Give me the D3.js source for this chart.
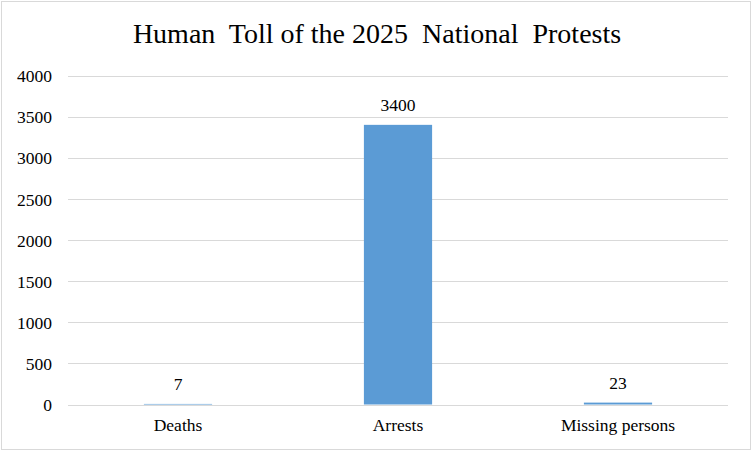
<!DOCTYPE html>
<html><head><meta charset="utf-8">
<script src="https://cdn.jsdelivr.net/npm/d3@7"></script>
<style>body{margin:0;background:#fff}svg{display:block}text{font-family:"Liberation Serif","Times New Roman",serif;fill:#000}</style>
</head><body><svg id="c" width="752" height="452"></svg>
<script>
const title = "Human  Toll of the 2025  National  Protests";
const categories = ["Deaths", "Arrests", "Missing persons"];
const values = [7, 3400, 23];
const yTicks = [0, 500, 1000, 1500, 2000, 2500, 3000, 3500, 4000];

const SERIF = '"Liberation Serif","Times New Roman",serif';
const svg = d3.select("#c");
const W = 752, H = 452;
const m = {left: 68, right: 24, top: 75.5, bottom: 47.5};
svg.append("rect").attr("x", 1.5).attr("y", 1.5).attr("width", W - 3).attr("height", H - 4)
  .attr("fill", "#fff").attr("stroke", "#d9d9d9");

const x = d3.scaleBand().domain(categories).range([m.left, W - m.right]).paddingInner(0.69).paddingOuter(0.345);
const y = d3.scaleLinear().domain([0, 4000]).range([H - m.bottom, m.top]);

svg.append("g").selectAll("line").data(yTicks).join("line")
  .attr("x1", m.left).attr("x2", W - m.right)
  .attr("y1", d => Math.round(y(d)) + 0.5).attr("y2", d => Math.round(y(d)) + 0.5)
  .attr("stroke", "#d9d9d9").attr("stroke-width", 1);

const yAxis = svg.append("g").attr("transform", `translate(${m.left},0)`)
  .call(d3.axisLeft(y).tickValues(yTicks).tickFormat(d3.format("d")).tickSize(0).tickPadding(16));
yAxis.attr("font-family", SERIF).attr("font-size", 17.5);
yAxis.select(".domain").remove();
yAxis.selectAll("text").attr("font-family", SERIF).attr("font-size", 17.5).attr("dy", "0.35em");

svg.append("g").selectAll("rect").data(values).join("rect")
  .attr("x", (d, i) => x(categories[i])).attr("width", x.bandwidth())
  .attr("y", d => y(d)).attr("height", d => y(0) - y(d))
  .attr("fill", "#5b9bd5");

svg.append("g").attr("font-family", SERIF).selectAll("text").data(values).join("text")
  .attr("x", (d, i) => x(categories[i]) + x.bandwidth() / 2)
  .attr("y", d => y(d) - 13.5).attr("text-anchor", "middle").attr("font-size", 17.5)
  .text(d => d);

const xAxis = svg.append("g").attr("transform", `translate(0,${y(0)})`)
  .call(d3.axisBottom(x).tickSize(0).tickPadding(14));
xAxis.attr("font-family", SERIF).attr("font-size", 17.5);
xAxis.select(".domain").remove();
xAxis.selectAll("text").attr("font-family", SERIF).attr("font-size", 17.5);

svg.append("text").attr("x", 377).attr("y", 43).attr("text-anchor", "middle")
  .attr("font-family", SERIF).attr("font-size", 28).style("white-space", "pre").text(title);
</script></body></html>
